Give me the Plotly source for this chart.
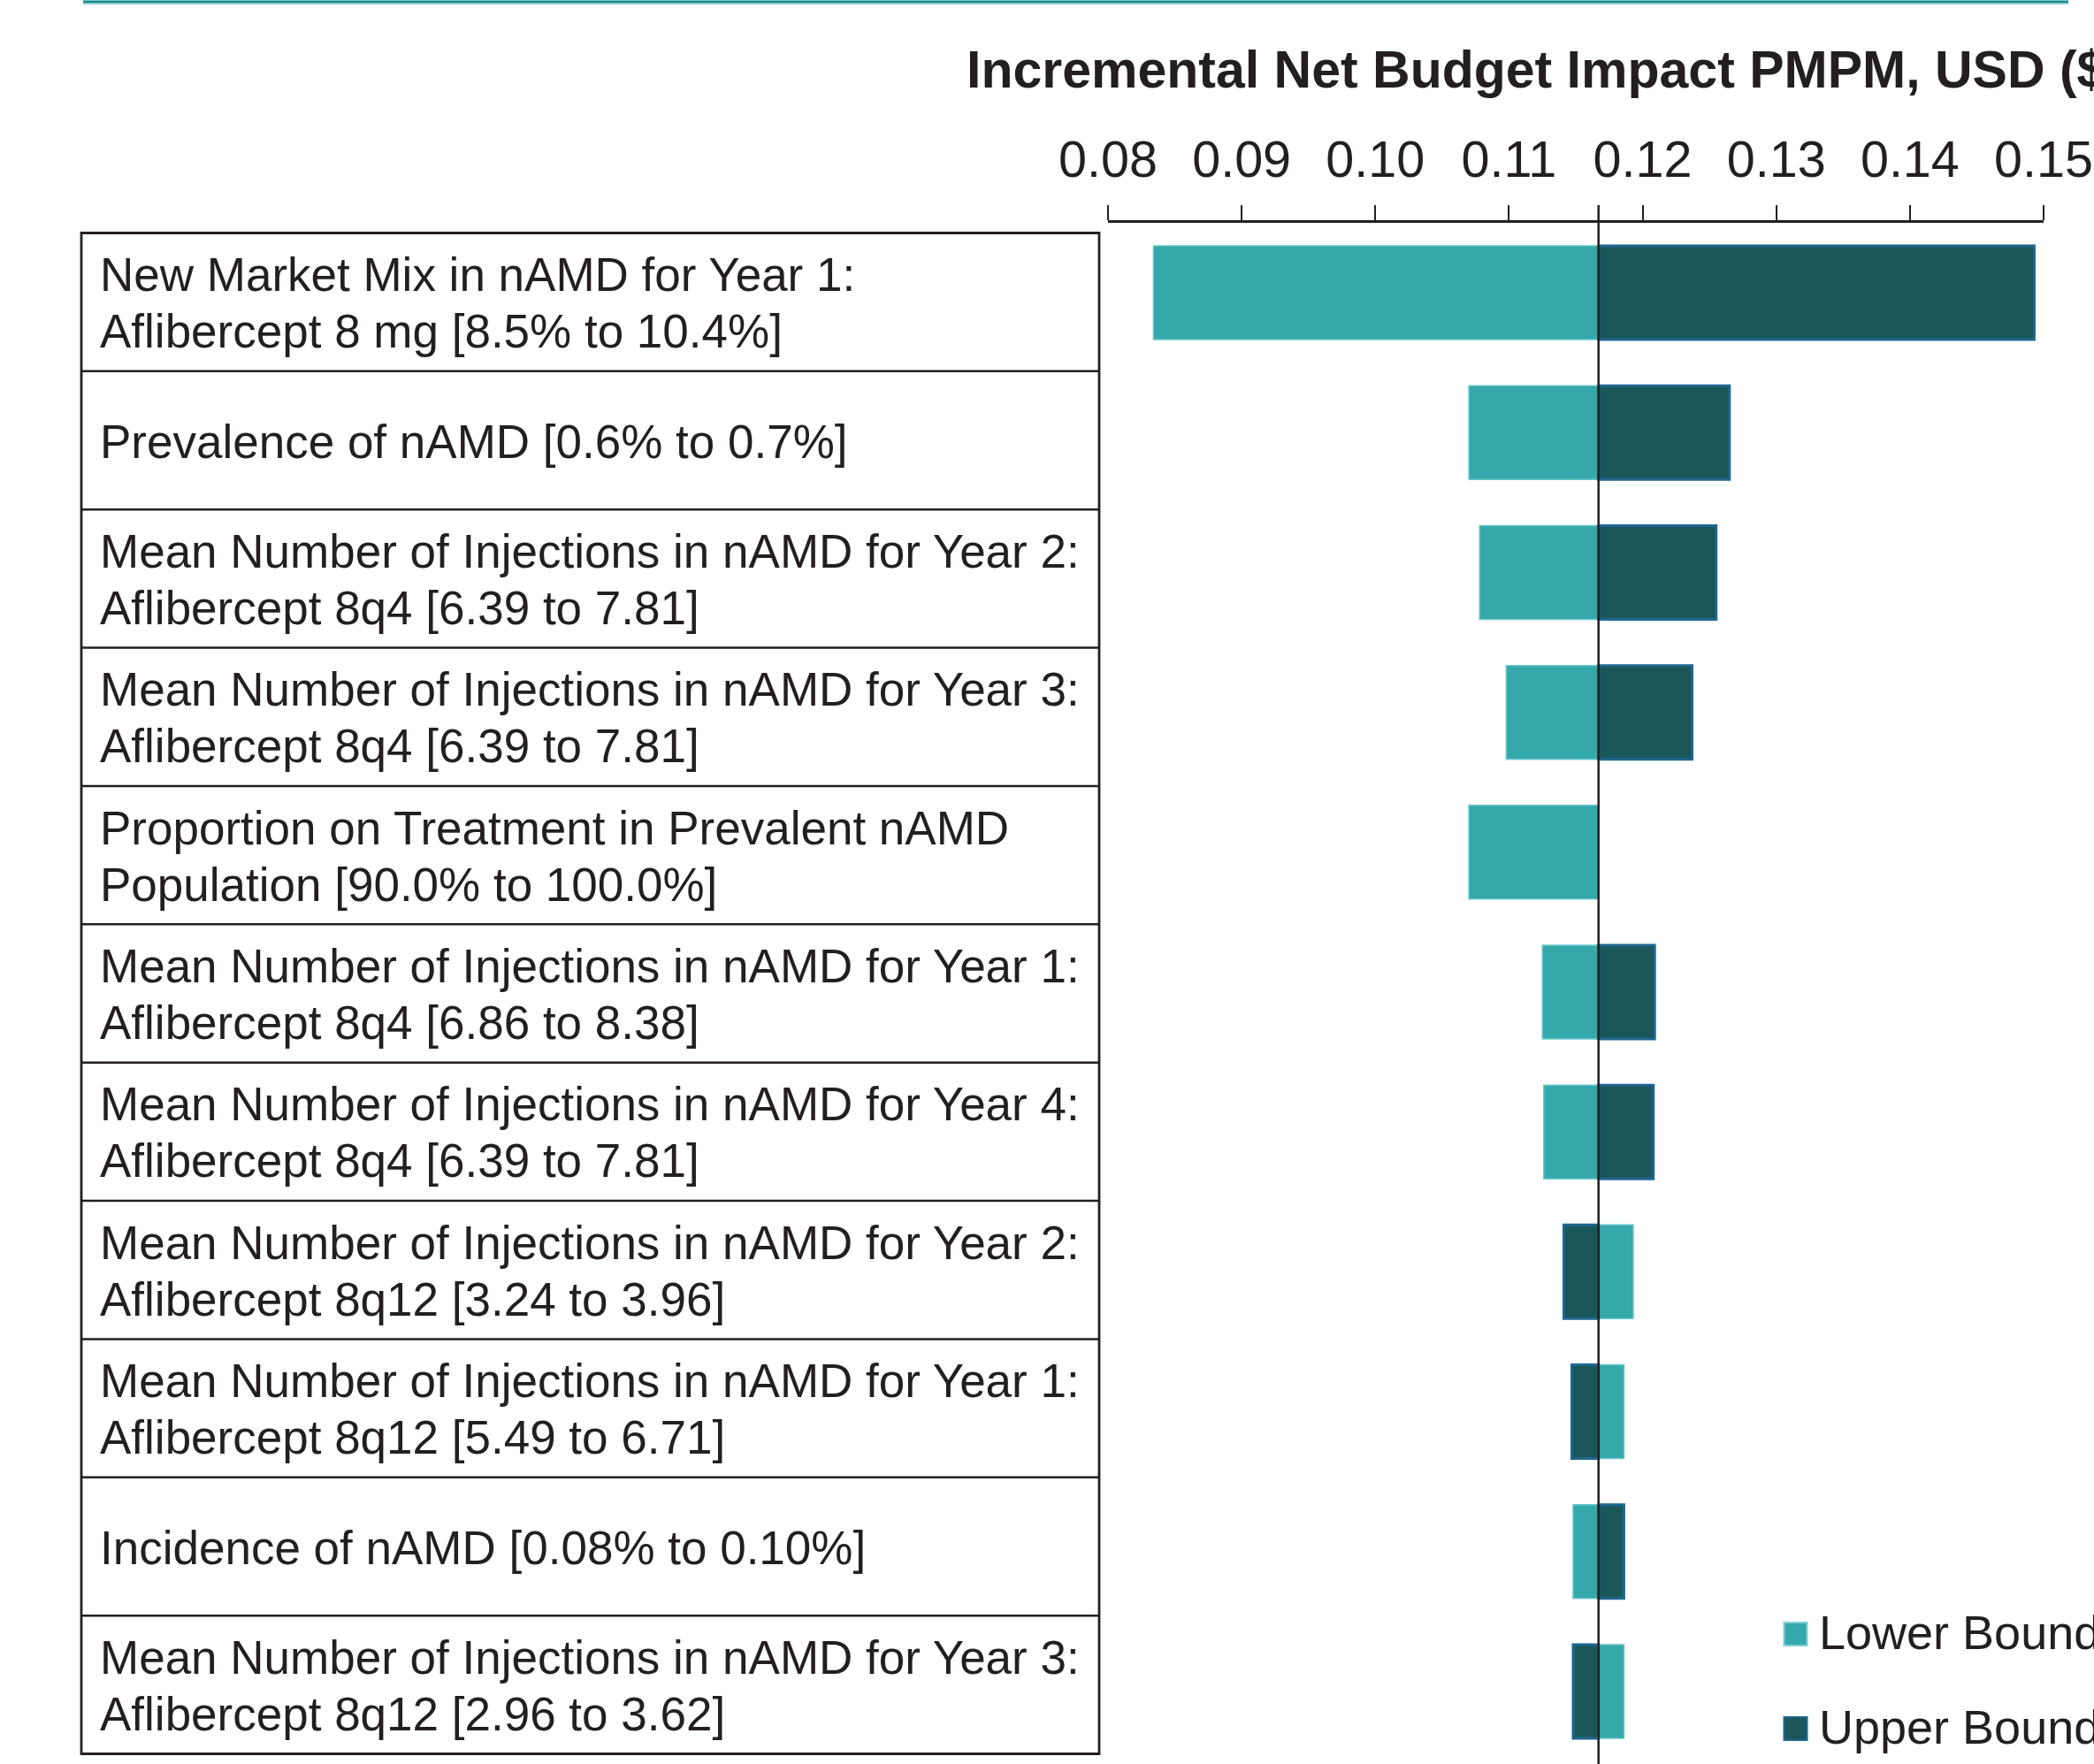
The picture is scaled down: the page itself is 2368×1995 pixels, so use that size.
import plotly.graph_objects as go

# ---------------- data ----------------
categories = [
    "New Market Mix in nAMD for Year 1:<br>Aflibercept 8 mg [8.5% to 10.4%]",
    "Prevalence of nAMD [0.6% to 0.7%]",
    "Mean Number of Injections in nAMD for Year 2:<br>Aflibercept 8q4 [6.39 to 7.81]",
    "Mean Number of Injections in nAMD for Year 3:<br>Aflibercept 8q4 [6.39 to 7.81]",
    "Proportion on Treatment in Prevalent nAMD<br>Population [90.0% to 100.0%]",
    "Mean Number of Injections in nAMD for Year 1:<br>Aflibercept 8q4 [6.86 to 8.38]",
    "Mean Number of Injections in nAMD for Year 4:<br>Aflibercept 8q4 [6.39 to 7.81]",
    "Mean Number of Injections in nAMD for Year 2:<br>Aflibercept 8q12 [3.24 to 3.96]",
    "Mean Number of Injections in nAMD for Year 1:<br>Aflibercept 8q12 [5.49 to 6.71]",
    "Incidence of nAMD [0.08% to 0.10%]",
    "Mean Number of Injections in nAMD for Year 3:<br>Aflibercept 8q12 [2.96 to 3.62]",
]
base_value = 0.1167
lower_values = [0.0834, 0.1070, 0.1078, 0.1098, 0.1070, 0.1125, 0.1126, 0.1193, 0.1186, 0.1148, 0.1186]
upper_values = [0.1493, 0.1265, 0.1255, 0.1237, 0.1167, 0.1209, 0.1208, 0.1141, 0.1147, 0.1186, 0.1148]
series_names = ["Lower Bound", "Upper Bound"]
x_ticks = [0.08, 0.09, 0.10, 0.11, 0.12, 0.13, 0.14, 0.15]
axis_title = "Incremental Net Budget Impact PMPM, USD ($)"

# ---------------- layout geometry (pixels) ----------------
FW, FH = 2368, 1995
L, R, T, Bm = 1253, 57, 252, 3
W = FW - L - R
H = FH - T - Bm
B = T + H

def px_x(px):
    return (px - L) / W

def px_y(py):
    return (B - py) / H

INK = "#231f20"
LOW_C = "#35a8ab"
UP_C = "#1b5659"
UP_EDGE = "#1f6690"
FONT = "Liberation Sans, Arial, Helvetica, sans-serif"

fig = go.Figure()
fig.add_trace(go.Bar(
    name=series_names[0], orientation="h", y=categories,
    x=[v - base_value for v in lower_values], base=base_value,
    marker=dict(color=LOW_C, line=dict(color="#6cc6c9", width=1.5)),
    showlegend=False,
))
fig.add_trace(go.Bar(
    name=series_names[1], orientation="h", y=categories,
    x=[v - base_value for v in upper_values], base=base_value,
    marker=dict(color=UP_C,
                line=dict(color=UP_EDGE,
                          width=[0 if abs(v - base_value) < 1e-9 else 3 for v in upper_values])),
    showlegend=False,
))

shapes = []
annotations = []

# top decorative rule
shapes.append(dict(type="rect", xref="paper", yref="paper",
                   x0=px_x(94), x1=px_x(2339), y0=px_y(3.4), y1=px_y(0.4),
                   fillcolor="#128e90", line=dict(width=0), layer="above"))
shapes.append(dict(type="rect", xref="paper", yref="paper",
                   x0=px_x(94), x1=px_x(2339), y0=px_y(4.8), y1=px_y(3.4),
                   fillcolor="#6cc6c6", line=dict(width=0), layer="above"))

# base value reference line
shapes.append(dict(type="line", xref="x", yref="paper",
                   x0=base_value, x1=base_value, y0=px_y(FH + 2), y1=px_y(232),
                   line=dict(color=INK, width=2.5), layer="above"))

# label table
tab_l, tab_r, tab_t, tab_b = 92, 1243, 263.5, 1983.5
n = len(categories)
row_h = (tab_b - tab_t) / n
shapes.append(dict(type="rect", xref="paper", yref="paper",
                   x0=px_x(tab_l), x1=px_x(tab_r), y0=px_y(tab_b), y1=px_y(tab_t),
                   line=dict(color=INK, width=2.8)))
for i in range(1, n):
    yy = tab_t + i * row_h
    shapes.append(dict(type="line", xref="paper", yref="paper",
                       x0=px_x(tab_l), x1=px_x(tab_r), y0=px_y(yy), y1=px_y(yy),
                       line=dict(color=INK, width=2.5)))

for i, lab in enumerate(categories):
    cy = tab_t + (i + 0.5) * row_h
    lines = lab.split("<br>")
    if len(lines) == 1:
        offsets = [1.5]
    else:
        offsets = [-31, 33]
    for ln, off in zip(lines, offsets):
        annotations.append(dict(
            text=ln, xref="paper", yref="paper", x=px_x(111), y=px_y(cy + off),
            xanchor="left", yanchor="middle", showarrow=False,
            font=dict(family=FONT, size=53, color=INK),
        ))

# axis title
annotations.append(dict(
    text="<b>" + axis_title + "</b>", xref="paper", yref="paper",
    x=px_x(1091), y=px_y(79), xanchor="left", yanchor="middle", showarrow=False,
    font=dict(family=FONT, size=59, color=INK),
))

# legend (drawn)
leg_colors = [(LOW_C, "#7fd0d3"), (UP_C, UP_EDGE)]
leg_cy = [1848, 1955]
for name, (fc, lc), cy in zip(series_names, leg_colors, leg_cy):
    shapes.append(dict(type="rect", xref="paper", yref="paper",
                       x0=px_x(2017.5), x1=px_x(2043.5), y0=px_y(cy + 13), y1=px_y(cy - 13),
                       fillcolor=fc, line=dict(color=lc, width=2), layer="above"))
    annotations.append(dict(
        text=name, xref="paper", yref="paper", x=px_x(2055), y=px_y(cy - 2),
        xanchor="left", yanchor="middle", showarrow=False,
        font=dict(family=FONT, size=54, color=INK),
    ))

fig.update_layout(
    width=FW, height=FH,
    margin=dict(l=L, r=R, t=T, b=Bm, autoexpand=False),
    paper_bgcolor="white", plot_bgcolor="white",
    barmode="overlay", bargap=0.33,
    font=dict(family=FONT, color=INK),
    shapes=shapes, annotations=annotations,
    xaxis=dict(
        side="top", range=[0.08 - 1e-7, 0.15 + 1e-7], tickvals=x_ticks,
        ticktext=[f"{v:.2f}" for v in x_ticks],
        ticks="outside", ticklen=17, tickwidth=2, tickcolor=INK,
        showline=True, linecolor=INK, linewidth=2.5,
        showgrid=False, zeroline=False, ticklabelstandoff=9,
        tickfont=dict(family=FONT, size=57.5, color=INK),
    ),
    yaxis=dict(
        categoryorder="array", categoryarray=categories,
        range=[n - 0.5, -0.5], showticklabels=False, ticks="",
        showgrid=False, zeroline=False, showline=False,
    ),
)

fig.write_html("out.html", config={"displayModeBar": False},
               post_script="document.body.style.margin='0';")
